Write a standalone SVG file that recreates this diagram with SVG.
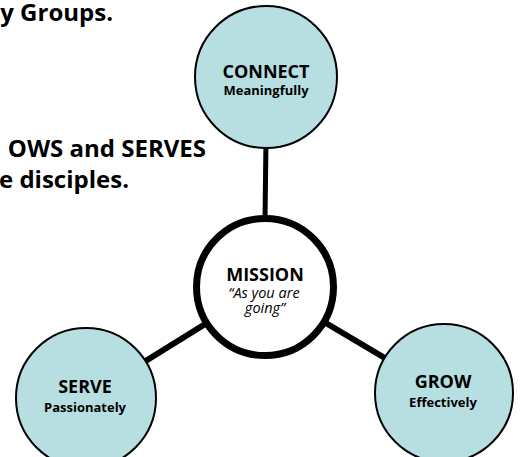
<svg xmlns="http://www.w3.org/2000/svg" width="520" height="457" viewBox="0 0 520 457">
<style>
.para{font-family:"Open Sans","Noto Sans",sans-serif;font-weight:700;font-size:24px;fill:#000}
.node{fill:#b7dfe2;stroke:#000;stroke-width:2}
.hub{fill:#fff;stroke:#000;stroke-width:7}
.title{font-family:"Open Sans","Noto Sans",sans-serif;font-weight:700;font-size:18px;fill:#000;text-anchor:middle}
.sub{font-family:"Open Sans","Noto Sans",sans-serif;font-weight:700;font-size:13px;fill:#000;text-anchor:middle}
.ital{font-family:"Open Sans","Noto Sans",sans-serif;font-style:italic;font-size:14.5px;fill:#000;text-anchor:middle}
.conn{stroke:#000;fill:none}
</style>
<rect width="520" height="457" fill="#fff"/>
<g id="paragraph">
<text class="para" x="113" y="21" text-anchor="end">y Groups.</text>
<text class="para" x="206" y="157" text-anchor="end">OWS and SERVES</text>
<text class="para" x="-1" y="188">e disciples.</text>
</g>
<g id="connectors">
<line class="conn" x1="266" y1="140" x2="265" y2="220" stroke-width="5"/>
<line class="conn" x1="265" y1="287" x2="86" y2="398" stroke-width="6"/>
<line class="conn" x1="265" y1="287" x2="444" y2="393" stroke-width="6"/>
</g>
<g id="connect">
<circle class="node" cx="266" cy="77" r="71"/>
<text class="title" x="266" y="78">CONNECT</text>
<text class="sub" x="266" y="95">Meaningfully</text>
</g>
<g id="mission">
<circle class="hub" cx="265" cy="287" r="68.5"/>
<text class="title" x="265" y="281" font-size="20.5">MISSION</text>
<text class="ital" x="264" y="298">“As you are</text>
<text class="ital" x="265" y="313">going”</text>
</g>
<g id="serve">
<circle class="node" cx="86" cy="398" r="70"/>
<text class="title" x="85" y="393">SERVE</text>
<text class="sub" x="85" y="412">Passionately</text>
</g>
<g id="grow">
<circle class="node" cx="444" cy="393" r="69"/>
<text class="title" x="443" y="388">GROW</text>
<text class="sub" x="443" y="407">Effectively</text>
</g>
</svg>
